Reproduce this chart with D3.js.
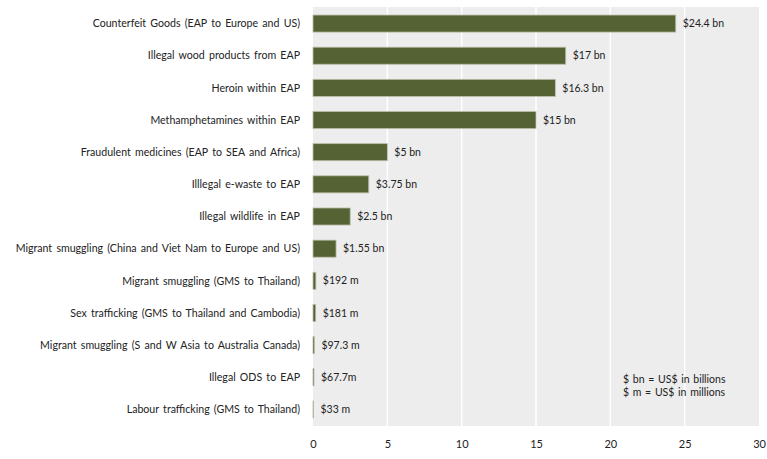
<!DOCTYPE html>
<html>
<head>
<meta charset="utf-8">
<script src="https://cdn.jsdelivr.net/npm/d3@7"></script>
<style>
  body { margin: 0; background: #fff; }
  svg text { font-family: Lato, "Open Sans", sans-serif; fill: #222; }
</style>
</head>
<body>
<svg id="chart" width="767" height="459"></svg>
<script>
// flows, top to bottom
var categories = [
    'Counterfeit Goods (EAP to Europe and US)',
    'Illegal wood products from EAP',
    'Heroin within EAP',
    'Methamphetamines within EAP',
    'Fraudulent medicines (EAP to SEA and Africa)',
    'Illlegal e-waste to EAP',
    'Illegal wildlife in EAP',
    'Migrant smuggling (China and Viet Nam to Europe and US)',
    'Migrant smuggling (GMS to Thailand)',
    'Sex trafficking (GMS to Thailand and Cambodia)',
    'Migrant smuggling (S and W Asia to Australia Canada)',
    'Illegal ODS to EAP',
    'Labour trafficking (GMS to Thailand)'
];
// US$ billions
var values = [24.4, 17, 16.3, 15, 5, 3.75, 2.5, 1.55, 0.192, 0.181, 0.0973, 0.0677, 0.033];
var valueLabels = ['$24.4 bn', '$17 bn', '$16.3 bn', '$15 bn', '$5 bn', '$3.75 bn', '$2.5 bn',
    '$1.55 bn', '$192 m', '$181 m', '$97.3 m', '$67.7m', '$33 m'];
var ticks = [0, 5, 10, 15, 20, 25, 30];
var notes = ['$ bn = US$ in billions', '$ m = US$ in millions'];

var data = categories.map(function(c, i) {
    return {name: c, value: values[i], label: valueLabels[i]};
});

var svg = d3.select('#chart');
var plotL = 313, plotR = 759, plotT = 7, plotB = 426;

var x = d3.scaleLinear().domain([0, 30]).range([plotL, plotR]);
var y = d3.scaleBand().domain(categories).range([plotT, plotB]).paddingInner(0.47).paddingOuter(0.25);

// plot background
svg.append('rect')
    .attr('x', plotL).attr('y', plotT)
    .attr('width', plotR - plotL).attr('height', plotB - plotT)
    .style('fill', '#ededed');

// gridlines
svg.selectAll('line.grid')
    .data(ticks.slice(1, -1))
    .enter()
    .append('line')
    .attr('class', 'grid')
    .attr('x1', function(d) { return x(d); })
    .attr('x2', function(d) { return x(d); })
    .attr('y1', plotT).attr('y2', plotB)
    .style('stroke', '#fff')
    .style('stroke-width', 1.5);

// bars
svg.selectAll('rect.bar')
    .data(data)
    .enter()
    .append('rect')
    .attr('class', 'bar')
    .attr('x', x(0))
    .attr('y', function(d) { return y(d.name); })
    .attr('width', function(d) { return x(d.value) - x(0); })
    .attr('height', y.bandwidth())
    .style('fill', '#556234')
    .style('stroke', '#b9bfa8')
    .style('stroke-width', 0.8);

// value labels
svg.selectAll('text.val')
    .data(data)
    .enter()
    .append('text')
    .attr('class', 'val')
    .attr('x', function(d) { return x(d.value) + 7; })
    .attr('y', function(d) { return y(d.name) + y.bandwidth() / 2; })
    .attr('dy', '0.35em')
    .style('font-size', '10.5px')
    .text(function(d) { return d.label; });

// category labels
svg.selectAll('text.cat')
    .data(data)
    .enter()
    .append('text')
    .attr('class', 'cat')
    .attr('x', 300)
    .attr('y', function(d) { return y(d.name) + y.bandwidth() / 2; })
    .attr('dy', '0.35em')
    .attr('text-anchor', 'end')
    .style('font-size', '10.6px')
    .style('word-spacing', '1.5px')
    .text(function(d) { return d.name; });

// x axis
var xAxis = d3.axisBottom(x).tickValues(ticks).tickSize(0).tickPadding(0);
var gx = svg.append('g')
    .attr('transform', 'translate(0,' + 440 + ')')
    .call(xAxis);
gx.select('.domain').remove();
gx.selectAll('text')
    .style('font-family', 'Lato, "Open Sans", sans-serif')
    .style('font-size', '11px')
    .style('fill', '#222');

// note
svg.selectAll('text.note')
    .data(notes)
    .enter()
    .append('text')
    .attr('class', 'note')
    .attr('x', 623)
    .attr('y', function(d, i) { return 379 + i * 13.5; })
    .attr('dy', '0.35em')
    .style('font-size', '10.5px')
    .style('word-spacing', '1px')
    .text(function(d) { return d; });
</script>
</body>
</html>
